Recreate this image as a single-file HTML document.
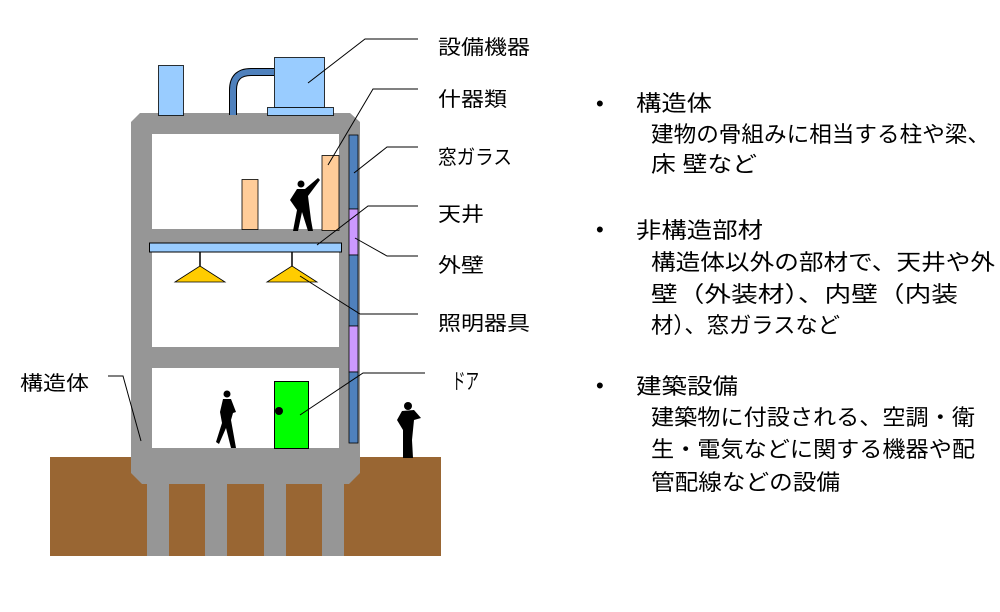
<!DOCTYPE html>
<html><head><meta charset="utf-8"><style>
body{margin:0;background:#fff;}
svg{display:block;}
text{font-family:"Liberation Sans","Noto Sans CJK JP",sans-serif;fill:#000;}
</style></head><body>
<svg width="1000" height="612" viewBox="0 0 1000 612" xmlns="http://www.w3.org/2000/svg">
<rect x="50" y="457" width="391" height="99" fill="#996633"/>
<g fill="#969696">
<rect x="147" y="470" width="22" height="86"/>
<rect x="205" y="470" width="22" height="86"/>
<rect x="264" y="470" width="22" height="86"/>
<rect x="322" y="470" width="22" height="86"/>
</g>
<path d="M140,113 L350,113 L360,122 L360,473 L349,484 L142,484 L131,473 L131,122 Z" fill="#969696"/>
<rect x="152" y="134" width="187" height="95" fill="#fff"/>
<rect x="152" y="243" width="187" height="104" fill="#fff"/>
<rect x="152" y="368" width="187" height="80" fill="#fff"/>
<rect x="149.5" y="243" width="192" height="9" fill="#99ccff" stroke="#000" stroke-width="1"/>
<line x1="200" y1="252" x2="200" y2="266" stroke="#000" stroke-width="1.5"/>
<polygon points="175,282 225,282 200,266" fill="#ffcc00" stroke="#000" stroke-width="0.8"/>
<line x1="292" y1="252" x2="292" y2="266" stroke="#000" stroke-width="1.5"/>
<polygon points="267,282 317,282 292,266" fill="#ffcc00" stroke="#000" stroke-width="0.8"/>
<rect x="242" y="179.5" width="16" height="50" fill="#ffcc99" stroke="#000" stroke-width="0.8"/>
<rect x="322" y="155.5" width="17" height="75" fill="#ffcc99" stroke="#000" stroke-width="0.8"/>
<g stroke="#000" stroke-width="0.8">
<rect x="349" y="135" width="9" height="74" fill="#4f81bd"/>
<rect x="349" y="209" width="9" height="46" fill="#cc99ff"/>
<rect x="349" y="255" width="9" height="71" fill="#4f81bd"/>
<rect x="349" y="326" width="9" height="46" fill="#cc99ff"/>
<rect x="349" y="372" width="9" height="71" fill="#4f81bd"/>
</g>
<rect x="158.5" y="65.5" width="25" height="50" fill="#99ccff" stroke="#000" stroke-width="0.8"/>
<path d="M233,115 L233,90 Q233,72 251,72 L274,72" fill="none" stroke="#000" stroke-width="8"/>
<path d="M233,115 L233,90 Q233,72 251,72 L274,72" fill="none" stroke="#4f81bd" stroke-width="6"/>
<rect x="274.5" y="57.5" width="50" height="50" fill="#99ccff" stroke="#000" stroke-width="0.8"/>
<rect x="267.5" y="107.5" width="66" height="8" fill="#99ccff" stroke="#000" stroke-width="0.8"/>
<rect x="274.5" y="381.5" width="34" height="67" fill="#00ff00" stroke="#000" stroke-width="1"/>
<circle cx="279" cy="411" r="4" fill="#000"/>
<g fill="#000">
<circle cx="301" cy="184" r="3.5"/>
<path d="M297,189 L305,189 L318,178 L320,180 L308,196 L311,220 L313,231 L308,231 L302,212 L298,231 L293,231 L297,210 L290,200 Z"/>
<circle cx="227" cy="394" r="3.5"/>
<path d="M223,399 L231,399 L236,412 L233,413 L231,420 L236,448 L231,448 L226,428 L219,444 L216,442 L222,423 L220,412 Z"/>
<circle cx="408" cy="406" r="4"/>
<path d="M402,411 L414,410 L421,418 L414,420 L412,440 L413,458 L403,458 L403,430 L397,420 Z"/>
</g>
<g stroke="#000" stroke-width="1" fill="none">
<polyline points="308,83 365,39 418,39"/>
<polyline points="328,165 373,89 418,89"/>
<polyline points="354,173 387,147 418,147"/>
<polyline points="317,245 368,206 418,206"/>
<polyline points="355,238 387,256 418,256"/>
<polyline points="300,276 360,314 418,314"/>
<polyline points="300,415 363,373 425,373"/>
<polyline points="108,376 123,376 141,441"/>
</g>
<g font-size="20">
<text x="438" y="54" textLength="92" lengthAdjust="spacingAndGlyphs">設備機器</text>
<text x="438" y="106" textLength="69" lengthAdjust="spacingAndGlyphs">什器類</text>
<text x="438" y="164" textLength="74" lengthAdjust="spacingAndGlyphs">窓ガラス</text>
<text x="438" y="221" textLength="46" lengthAdjust="spacingAndGlyphs">天井</text>
<text x="438" y="272" textLength="46" lengthAdjust="spacingAndGlyphs">外壁</text>
<text x="438" y="330" textLength="92" lengthAdjust="spacingAndGlyphs">照明器具</text>
<text x="452" y="389" font-size="22" textLength="27" lengthAdjust="spacingAndGlyphs">ドア</text>
<text x="20" y="390" textLength="69" lengthAdjust="spacingAndGlyphs">構造体</text>
</g>
<g font-size="22">
<text x="596" y="111">•</text>
<text x="636" y="111" textLength="76" lengthAdjust="spacingAndGlyphs">構造体</text>
<text x="651" y="142" textLength="339" lengthAdjust="spacingAndGlyphs">建物の骨組みに相当する柱や梁、</text>
<text x="651" y="172" textLength="106" lengthAdjust="spacingAndGlyphs">床  壁など</text>
<text x="596" y="237">•</text>
<text x="636" y="238" textLength="127" lengthAdjust="spacingAndGlyphs">非構造部材</text>
<text x="651" y="270" textLength="344" lengthAdjust="spacingAndGlyphs">構造体以外の部材で、天井や外</text>
<text x="651" y="302" textLength="307" lengthAdjust="spacingAndGlyphs">壁（外装材）、内壁（内装</text>
<text x="651" y="333" textLength="189" lengthAdjust="spacingAndGlyphs">材）、窓ガラスなど</text>
<text x="596" y="393">•</text>
<text x="636" y="394" textLength="102" lengthAdjust="spacingAndGlyphs">建築設備</text>
<text x="651" y="425" textLength="324" lengthAdjust="spacingAndGlyphs">建築物に付設される、空調・衛</text>
<text x="651" y="457" textLength="324" lengthAdjust="spacingAndGlyphs">生・電気などに関する機器や配</text>
<text x="651" y="490" textLength="189" lengthAdjust="spacingAndGlyphs">管配線などの設備</text>
</g>
</svg>
</body></html>
